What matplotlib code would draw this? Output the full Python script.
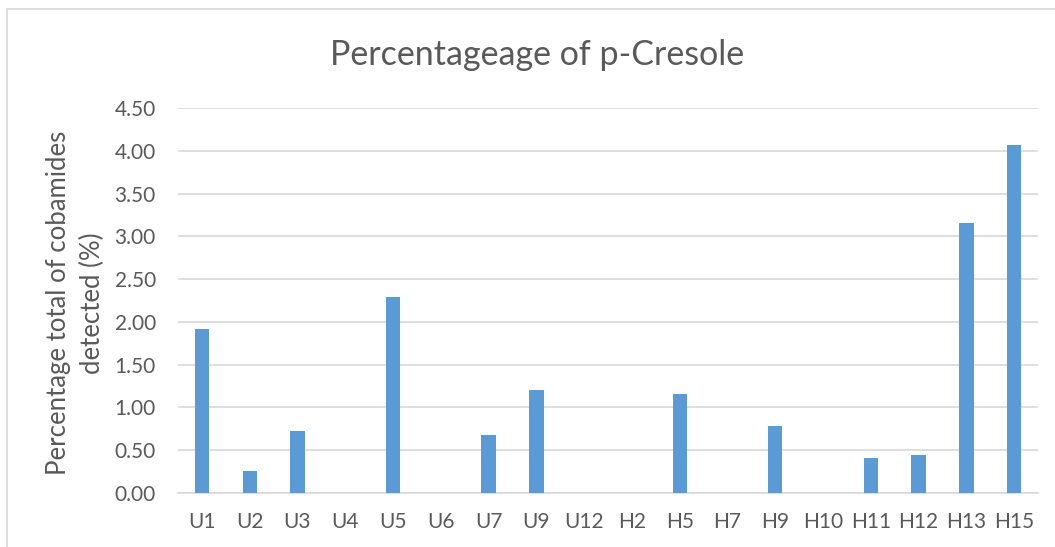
import matplotlib
matplotlib.use("Agg")
import matplotlib.pyplot as plt
from matplotlib.patches import Rectangle

categories = ["U1", "U2", "U3", "U4", "U5", "U6", "U7", "U9", "U12", "H2",
              "H5", "H7", "H9", "H10", "H11", "H12", "H13", "H15"]
values = [1.92, 0.26, 0.72, 0.0, 2.29, 0.0, 0.68, 1.20, 0.0, 0.0,
          1.16, 0.0, 0.78, 0.0, 0.41, 0.44, 3.16, 4.07]
yticks = [0.0, 0.5, 1.0, 1.5, 2.0, 2.5, 3.0, 3.5, 4.0, 4.5]
ylabel_lines = ["Percentage total of cobamides", "detected (%)"]

plt.rcParams['font.family'] = ['Lato', 'DejaVu Sans']
txt = '#595959'
grid = '#D9D9D9'

fig = plt.figure(figsize=(10.55, 5.47), dpi=100)
fig.patches.append(Rectangle((7/1055, -0.05), 1.1, 1 - 9/547 + 0.05,
                             transform=fig.transFigure, fill=False,
                             edgecolor=grid, linewidth=1.2))
ax = fig.add_axes([178/1055, 1 - 493/547, (1038 - 178)/1055, (493 - 108)/547])
x = list(range(len(categories)))
ax.bar(x, values, width=0.3, color='#5B9BD5', zorder=3)
ax.set_xlim(-0.5, len(categories) - 0.5)
ax.set_ylim(0, 4.5)
ax.set_yticks(yticks)
ax.set_yticklabels([f"{v:.2f}" for v in yticks])
ax.set_xticks(x)
ax.set_xticklabels(categories)
ax.tick_params(axis='both', length=0, labelsize=15, colors=txt)
ax.tick_params(axis='y', pad=16)
ax.tick_params(axis='x', pad=14)
ax.grid(axis='y', color=grid, linewidth=1.2, zorder=0)
for s in ['top', 'right', 'left']:
    ax.spines[s].set_visible(False)
ax.spines['bottom'].set_color(grid)
ax.spines['bottom'].set_linewidth(1.2)
for xpx, line in zip([59, 92], ylabel_lines):
    fig.text(xpx/1055, 1 - 303/547, line, rotation=90, ha='center',
             va='center', fontsize=18.5, color=txt)
fig.text(537/1055, 1 - 55/547, "Percentageage of p-Cresole", ha='center',
         va='center', fontsize=24.5, color=txt)
fig.savefig("out.png", dpi=100)
